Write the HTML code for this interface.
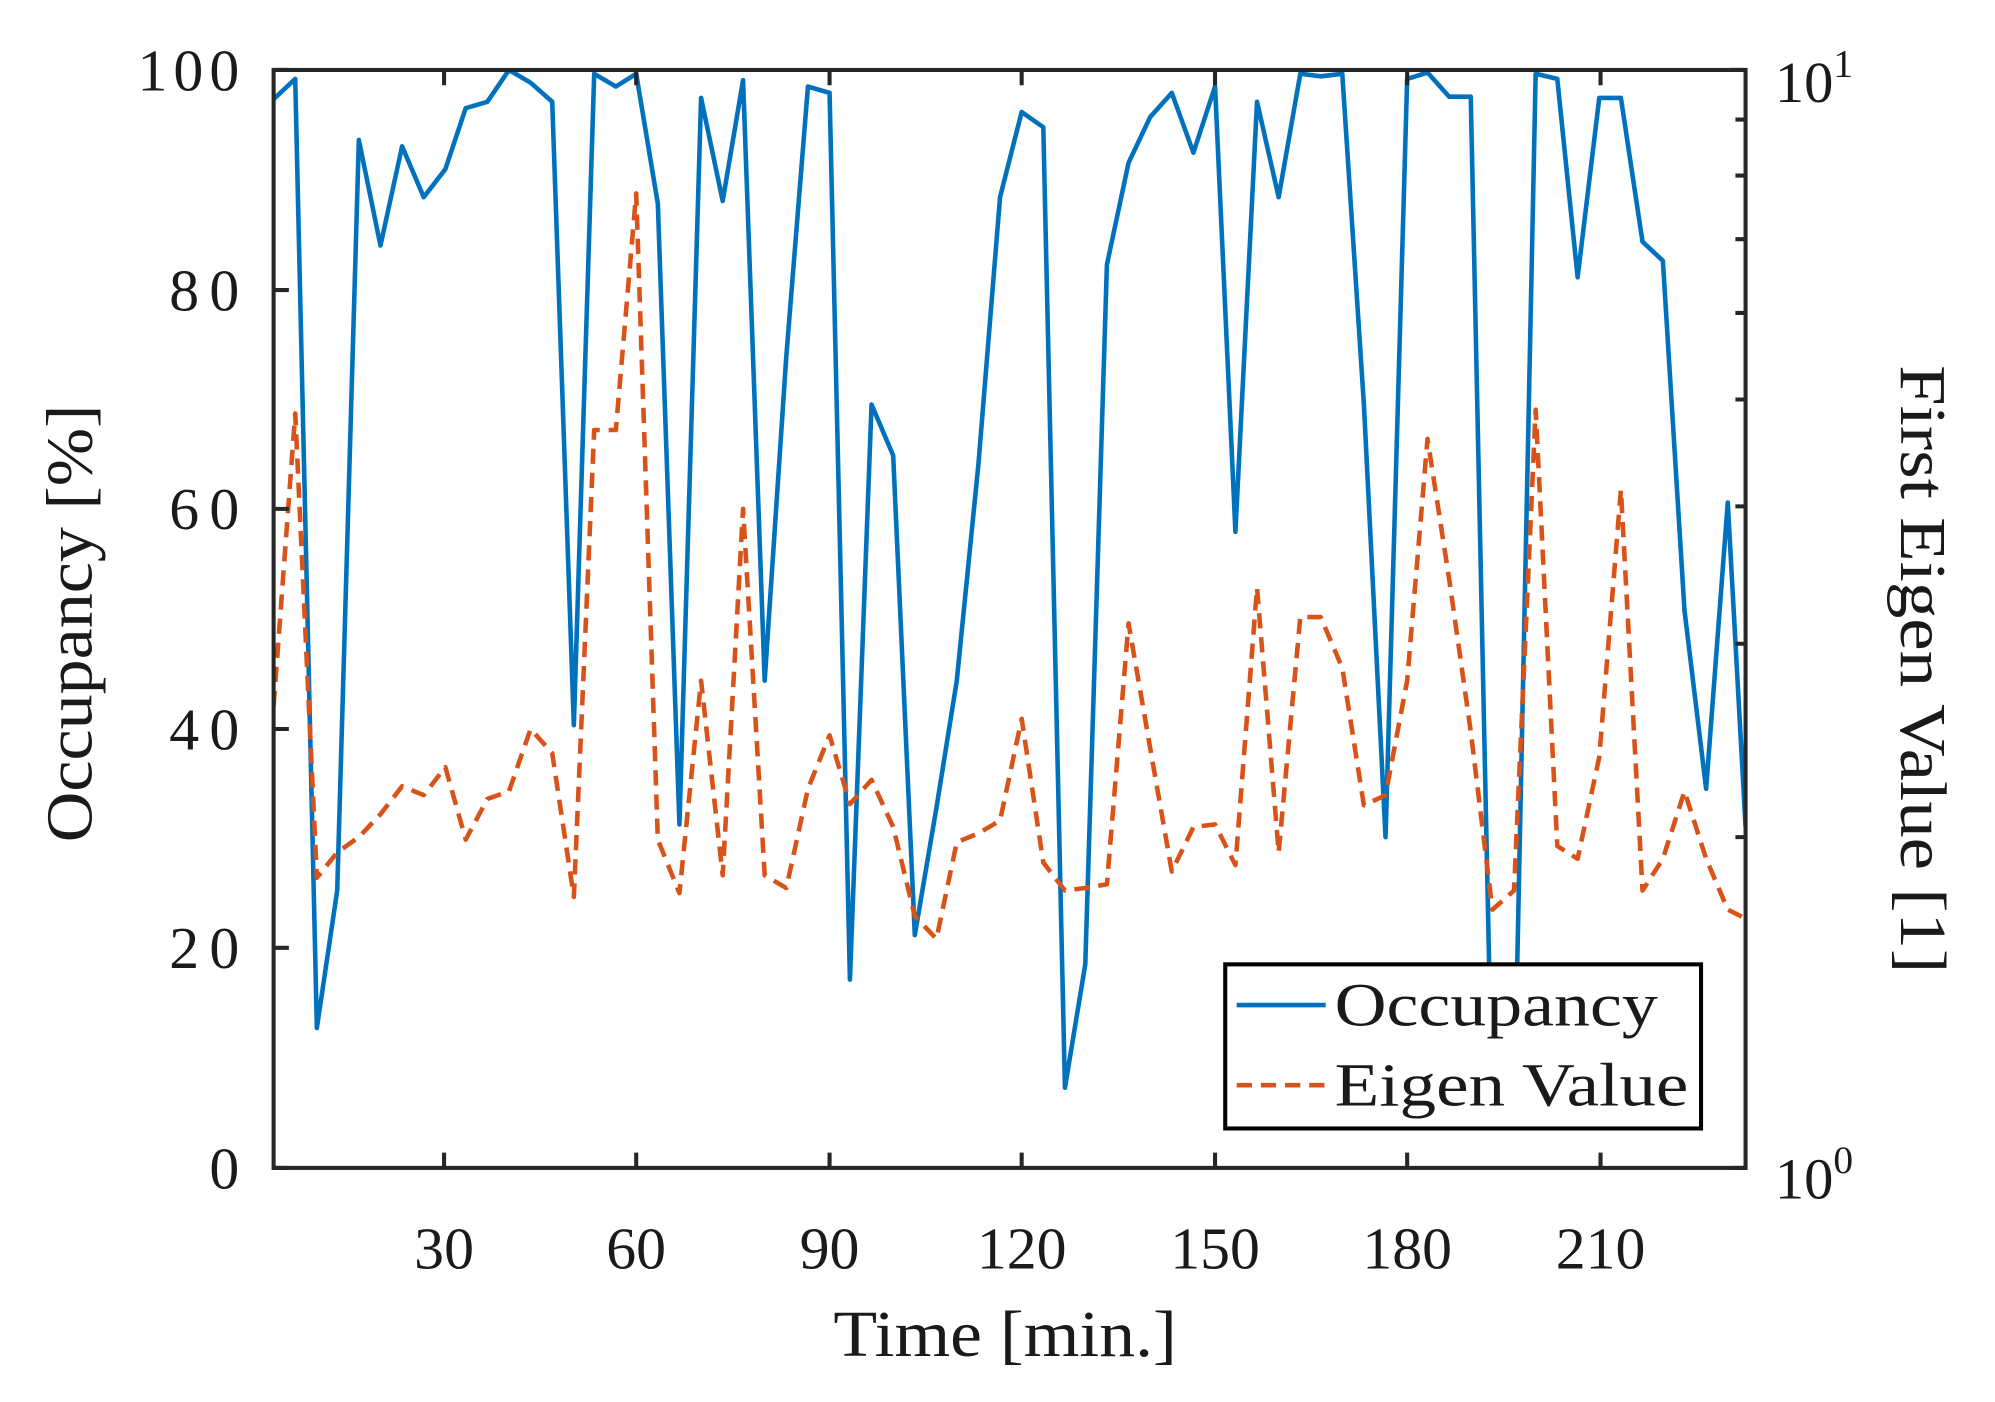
<!DOCTYPE html>
<html><head><meta charset="utf-8"><style>
html,body{margin:0;padding:0;background:#fff;}
svg{display:block;}
text{font-family:"Liberation Serif",serif;fill:#1a1a1a;}
</style></head><body>
<svg width="1995" height="1402" viewBox="0 0 1568 1102" xmlns="http://www.w3.org/2000/svg">
<rect width="1568" height="1102" fill="#fff"/>
<defs><clipPath id="c"><rect x="215" y="55" width="1157" height="863"/></clipPath></defs>
<g clip-path="url(#c)" fill="none" stroke-linejoin="round">
<polyline stroke="#0072BD" stroke-width="3.6" points="215,78 232,62 249,808 265,700 282,110 299,193 316,115 333,155 350,133 366,85 383,80 400,55 417,65 434,80 451,570 467,58 484,68 500,58 517,160 534,648 551,77 568,158 584,63 601,535 618,280 635,68 652,73 668,770 685,318 702,358 719,735 736,635 752,535 769,365 786,155 803,88 820,100 837,855 853,758 870,208 887,128 904,92 921,73 938,120 955,68 971,418 988,80 1005,155 1022,58 1038,60 1055,58 1072,318 1089,658 1106,62 1122,57 1139,76 1156,76 1173,880 1190,880 1207,58 1224,62 1240,218 1257,77 1274,77 1291,190 1307,205 1324,480 1341,620 1358,395 1372,650"/>
<polyline stroke="#D95319" stroke-width="3.6" stroke-dasharray="12,7" points="215,555 232,325 249,690 265,670 282,658 299,640 316,618 333,625 350,603 366,660 383,628 400,622 417,573 434,592 451,705 467,338 484,338 500,152 517,660 534,702 551,535 568,688 584,400 601,688 618,698 635,620 652,578 668,632 685,613 702,650 719,720 736,738 752,662 769,655 786,645 803,565 820,678 837,700 853,698 870,695 887,490 904,588 921,685 938,650 955,648 971,680 988,462 1005,670 1022,485 1038,485 1055,525 1072,633 1089,625 1106,535 1122,345 1139,455 1156,575 1173,715 1190,700 1207,322 1224,665 1240,675 1257,595 1274,385 1291,700 1307,675 1324,622 1341,675 1358,715 1372,722"/>
</g>
<g stroke="#262626" stroke-width="3.2" fill="none">
<rect x="215" y="55" width="1157" height="863"/>
<path d="M215,918h12M215,745h12M215,573h12M215,400h12M215,228h12M215,55h12"/>
<path d="M349,918v-12M500,918v-12M652,918v-12M803,918v-12M955,918v-12M1106,918v-12M1258,918v-12"/>
<path d="M349,55v12M500,55v12M652,55v12M803,55v12M955,55v12M1106,55v12M1258,55v12"/>
<path d="M1372,918h-12M1372,55h-12M1372,658h-8M1372,506h-8M1372,398h-8M1372,314h-8M1372,246h-8M1372,188h-8M1372,138h-8M1372,94h-8"/>
</g>
<g font-size="47" text-anchor="end">
<text x="188" y="934">0</text><text x="188" y="761" textLength="55">20</text><text x="188" y="589" textLength="55">40</text>
<text x="188" y="416" textLength="55">60</text><text x="188" y="244" textLength="55">80</text><text x="188" y="71" textLength="80">100</text>
</g>
<g font-size="47" text-anchor="middle">
<text x="349" y="997">30</text><text x="500" y="997">60</text><text x="652" y="997">90</text>
<text x="803" y="997">120</text><text x="955" y="997">150</text><text x="1106" y="997">180</text><text x="1258" y="997">210</text>
</g>
<text x="655" y="1066" font-size="52" textLength="270" lengthAdjust="spacingAndGlyphs">Time [min.]</text>
<g font-size="46">
<text x="1395" y="80">10<tspan font-size="31" dy="-20">1</tspan></text>
<text x="1395" y="942">10<tspan font-size="31" dy="-20">0</tspan></text>
</g>
<text font-size="52" transform="translate(72,662) rotate(-90)" textLength="344" lengthAdjust="spacingAndGlyphs">Occupancy [%]</text>
<text font-size="52" transform="translate(1494,287) rotate(90)" textLength="478" lengthAdjust="spacingAndGlyphs">First Eigen Value [1]</text>
<rect x="963" y="758" width="374" height="129" fill="#fff" stroke="#000" stroke-width="3.2"/>
<line x1="972" y1="790" x2="1042" y2="790" stroke="#0072BD" stroke-width="3.6"/>
<line x1="972" y1="853" x2="1042" y2="853" stroke="#D95319" stroke-width="3.6" stroke-dasharray="12,7"/>
<text x="1049" y="806" font-size="48" textLength="254" lengthAdjust="spacingAndGlyphs">Occupancy</text>
<text x="1049" y="869" font-size="48" textLength="278" lengthAdjust="spacingAndGlyphs">Eigen Value</text>
</svg>
</body></html>
